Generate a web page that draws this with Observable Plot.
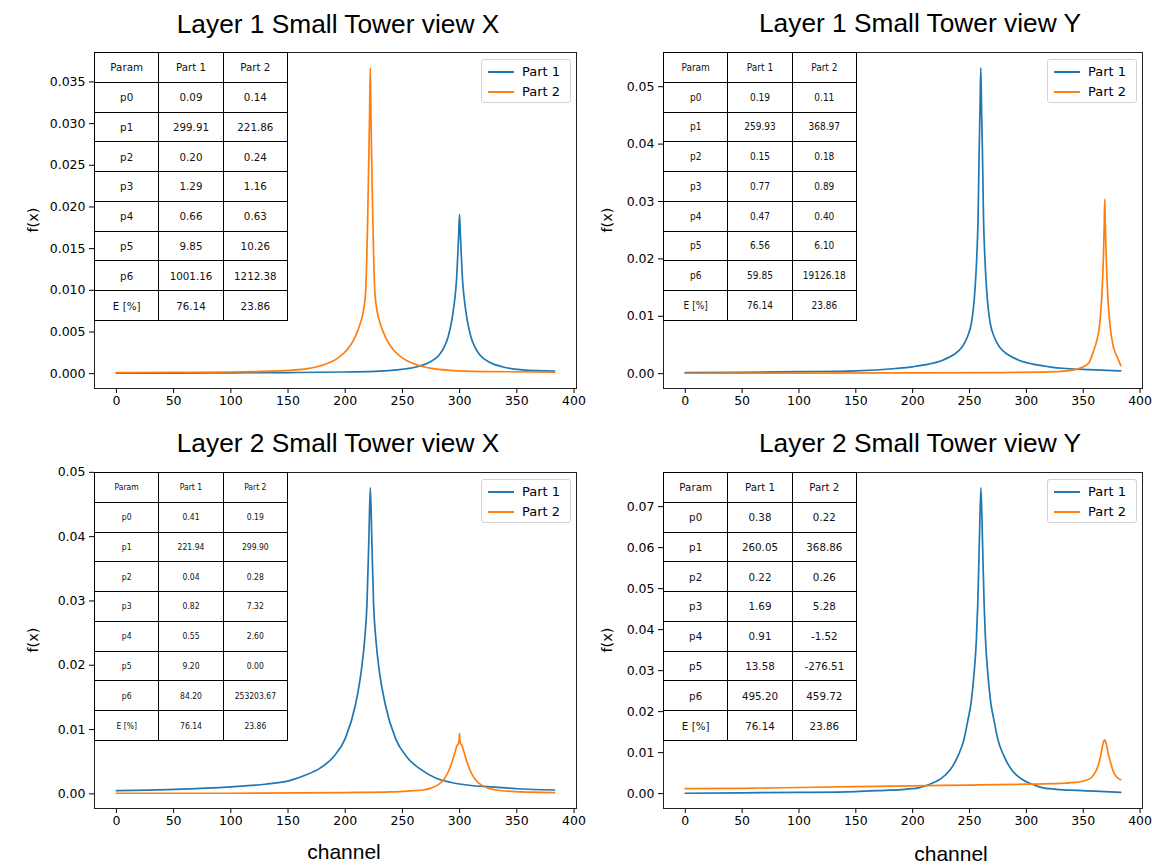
<!DOCTYPE html>
<html>
<head>
<meta charset="utf-8">
<script src="https://cdn.jsdelivr.net/npm/d3@7"></script>
<script src="https://cdn.jsdelivr.net/npm/@observablehq/plot@0.6"></script>
<style>
  body { margin: 0; background: #fff; }
  #fig { position: relative; width: 1152px; height: 865px; overflow: hidden; background: #fff; }
  #fig svg { position: absolute; left: 0; top: 0; overflow: visible; }
  .title { position: absolute; font-family: "Liberation Sans", Arial, sans-serif; font-size: 26.3px; color: #000;
           transform: translate(-50%, -50%); white-space: nowrap; line-height: 1; }
  .xlab { position: absolute; font-family: "Liberation Sans", Arial, sans-serif; font-size: 21px; color: #000;
          transform: translate(-50%, -50%); white-space: nowrap; line-height: 1; }
  .ylab { position: absolute; font-family: "DejaVu Sans", sans-serif; font-size: 14.5px; color: #000;
          transform: translate(-50%, -50%) rotate(-90deg); white-space: nowrap; line-height: 1; }
  table.pt { position: absolute; border-collapse: collapse; table-layout: fixed; background: #fff; }
  table.pt td { border: 1.2px solid #000; text-align: center; padding: 0; color: #111; overflow: hidden; white-space: nowrap; }
  .leg { position: absolute; width: 90px; height: 44px; box-sizing: border-box; border: 1px solid #d4d4d4; border-radius: 3px;
         background: rgba(255,255,255,0.85); font-family: "DejaVu Sans", sans-serif; font-size: 13px; color: #000; }
  .leg .row { position: absolute; left: 0; height: 16px; line-height: 16px; white-space: nowrap; }
  .leg .sw { position: absolute; left: 6px; top: 7px; width: 26px; height: 2px; }
  .leg .tx { position: absolute; left: 40px; top: 0; }
</style>
</head>
<body>
<div id="fig"></div>
<script>
// ---------------- data ----------------
const seriesNames = ["Part 1", "Part 2"];
const seriesColors = ["#1f77b4", "#ff7f0e"];
const channelTicks = [0, 50, 100, 150, 200, 250, 300, 350, 400];
const paramNames = ["p0", "p1", "p2", "p3", "p4", "p5", "p6", "E [%]"];

// Layer 1 view X
const l1xCh1 = [0, 50, 100, 150, 200, 230, 244.91, 261.91, 272.91, 281.91, 286.91, 289.91, 292.91, 294.91, 296.41, 297.41, 298.31, 299.11, 299.91, 300.71, 301.51, 302.41, 303.41, 304.91, 306.91, 309.91, 312.91, 317.91, 326.91, 337.91, 354.91, 383];
const l1xF1  = [0.00005, 0.00007, 0.0001, 0.00013, 0.0002, 0.0003, 0.00045, 0.0008, 0.0013, 0.0022, 0.0033, 0.0044, 0.0062, 0.008, 0.0098, 0.0115, 0.0141, 0.0165, 0.0191, 0.0165, 0.0141, 0.0115, 0.0098, 0.008, 0.0062, 0.0044, 0.0033, 0.0022, 0.0013, 0.0008, 0.00045, 0.0003];
const l1xCh2 = [0, 50, 100, 121.86, 151.86, 166.86, 181.86, 193.86, 201.86, 206.86, 209.86, 213.36, 215.86, 217.86, 218.86, 219.56, 220.66, 221.26, 221.86, 222.46, 223.06, 224.16, 224.86, 225.86, 227.86, 230.36, 233.86, 236.86, 241.86, 249.86, 261.86, 276.86, 291.86, 321.86, 383];
const l1xF2  = [0.00012, 0.00015, 0.0002, 0.00025, 0.0004, 0.0006, 0.0011, 0.0019, 0.0029, 0.0039, 0.0048, 0.0061, 0.0075, 0.0099, 0.014, 0.0181, 0.0262, 0.031, 0.0367, 0.031, 0.0262, 0.0181, 0.014, 0.0099, 0.0075, 0.0061, 0.0048, 0.0039, 0.0029, 0.0019, 0.0011, 0.0006, 0.0004, 0.00025, 0.00018];
const l1xTicks = [0, 0.005, 0.01, 0.015, 0.02, 0.025, 0.03, 0.035];
const l1xPart1 = ["0.09", "299.91", "0.20", "1.29", "0.66", "9.85", "1001.16", "76.14"];
const l1xPart2 = ["0.14", "221.86", "0.24", "1.16", "0.63", "10.26", "1212.38", "23.86"];

// Layer 1 view Y
const l1yCh1 = [0, 50, 100, 150, 184.93, 199.93, 214.93, 226.93, 235.93, 242.93, 247.93, 251.53, 253.43, 254.93, 256.43, 257.53, 258.43, 259.23, 259.93, 260.63, 261.43, 262.33, 263.43, 264.93, 266.43, 268.33, 271.93, 276.93, 283.93, 292.93, 304.93, 319.93, 334.93, 354.93, 383];
const l1yF1  = [0.0002, 0.00025, 0.00035, 0.0005, 0.0009, 0.0012, 0.0017, 0.0024, 0.0033, 0.0045, 0.0063, 0.0087, 0.0114, 0.015, 0.0205, 0.027, 0.038, 0.046, 0.0533, 0.046, 0.038, 0.027, 0.0205, 0.015, 0.0114, 0.0087, 0.0063, 0.0045, 0.0033, 0.0024, 0.0017, 0.0012, 0.0009, 0.0007, 0.0005];
const l1yCh2 = [0, 100, 200, 280, 320, 335, 344, 350, 355, 359.5, 362, 364.6, 366.5, 367.8, 368.5, 368.97, 369.45, 370.2, 371.5, 373.4, 376.5, 379, 381, 383];
const l1yF2  = [0.00008, 0.0001, 0.00013, 0.0002, 0.0003, 0.0005, 0.00075, 0.0012, 0.0019, 0.0042, 0.0058, 0.0088, 0.014, 0.0205, 0.026, 0.0304, 0.026, 0.0205, 0.014, 0.0088, 0.0047, 0.0033, 0.0024, 0.0014];
const l1yTicks = [0, 0.01, 0.02, 0.03, 0.04, 0.05];
const l1yPart1 = ["0.19", "259.93", "0.15", "0.77", "0.47", "6.56", "59.85", "76.14"];
const l1yPart2 = ["0.11", "368.97", "0.18", "0.89", "0.40", "6.10", "19126.18", "23.86"];

// Layer 2 view X
const l2xCh1 = [0, 50, 100, 130, 152, 165, 178, 190, 200, 209, 214, 217, 219, 220.7, 221.94, 223.2, 224.8, 226.8, 229.8, 235, 244, 254, 266, 280, 292, 310, 327, 350, 383];
const l2xF1  = [0.0005, 0.0007, 0.0011, 0.0015, 0.0021, 0.0029, 0.004, 0.0058, 0.0086, 0.0139, 0.0191, 0.024, 0.0295, 0.0399, 0.0476, 0.0399, 0.0295, 0.024, 0.0191, 0.0139, 0.0086, 0.0057, 0.0038, 0.0024, 0.0018, 0.0013, 0.0011, 0.0008, 0.0006];
const l2xCh2 = [0, 100, 200, 240, 260, 268, 275, 281, 286, 290, 293.5, 296, 297.5, 299.2, 299.6, 299.9, 300.2, 300.6, 302.3, 303.8, 306.3, 309.8, 313.8, 318.8, 324.8, 332, 345, 383];
const l2xF2  = [0.0001, 0.0001, 0.0002, 0.0003, 0.0005, 0.0006, 0.0009, 0.0014, 0.0022, 0.0034, 0.005, 0.0065, 0.0074, 0.008, 0.0084, 0.0094, 0.0084, 0.008, 0.0074, 0.0065, 0.005, 0.0034, 0.0022, 0.0014, 0.0009, 0.0006, 0.0004, 0.0002];
const l2xTicks = [0, 0.01, 0.02, 0.03, 0.04, 0.05];
const l2xPart1 = ["0.41", "221.94", "0.04", "0.82", "0.55", "9.20", "84.20", "76.14"];
const l2xPart2 = ["0.19", "299.90", "0.28", "7.32", "2.60", "0.00", "253203.67", "23.86"];

// Layer 2 view Y
const l2yCh1 = [0, 50, 100, 150, 175, 190, 205, 215, 224, 233, 240.35, 245, 248.35, 251.55, 254.15, 256.05, 257.25, 258.75, 260.05, 261.35, 262.85, 264.05, 265.95, 268.55, 271.75, 275.05, 279.75, 287.05, 296.05, 305.05, 315, 330, 345, 360, 383];
const l2yF1  = [0.0001, 0.0002, 0.0003, 0.0005, 0.0008, 0.001, 0.0014, 0.0023, 0.0035, 0.0058, 0.0095, 0.0131, 0.0176, 0.0225, 0.0298, 0.0376, 0.0462, 0.0625, 0.0746, 0.0625, 0.0462, 0.0376, 0.0298, 0.0225, 0.0176, 0.0131, 0.0095, 0.0058, 0.0035, 0.0023, 0.0014, 0.001, 0.0008, 0.0006, 0.0003];
const l2yCh2 = [0, 50, 100, 150, 200, 250, 300, 330, 345, 352, 357.5, 361, 363, 364.5, 365.7, 367, 368, 368.86, 369.7, 370.7, 372, 373.5, 375, 376.5, 379, 383];
const l2yF2  = [0.0012, 0.0013, 0.0015, 0.0017, 0.0019, 0.0021, 0.0023, 0.0025, 0.0028, 0.0032, 0.004, 0.0054, 0.0067, 0.0082, 0.0097, 0.0117, 0.0127, 0.0131, 0.0127, 0.0117, 0.0097, 0.0082, 0.0067, 0.0054, 0.0042, 0.0034];
const l2yTicks = [0, 0.01, 0.02, 0.03, 0.04, 0.05, 0.06, 0.07];
const l2yPart1 = ["0.38", "260.05", "0.22", "1.69", "0.91", "13.58", "495.20", "76.14"];
const l2yPart2 = ["0.22", "368.86", "0.26", "5.28", "-1.52", "-276.51", "459.72", "23.86"];

// ---------------- layout ----------------
const W = 1152, H = 865;
const panels = [
  { title: "Layer 1 Small Tower view X", ch1: l1xCh1, f1: l1xF1, ch2: l1xCh2, f2: l1xF2, yTicks: l1xTicks, fmt: ".3f",
    part1: l1xPart1, part2: l1xPart2, frame: [94, 576, 52, 388], titleXY: [338, 24], ylabXY: [33, 220], xlabXY: null,
    tableFont: "10.3px", tableFamily: '"DejaVu Sans"', tableStretch: "normal" },
  { title: "Layer 1 Small Tower view Y", ch1: l1yCh1, f1: l1yF1, ch2: l1yCh2, f2: l1yF2, yTicks: l1yTicks, fmt: ".2f",
    part1: l1yPart1, part2: l1yPart2, frame: [663, 1142, 52, 388], titleXY: [920, 23], ylabXY: [607, 220], xlabXY: null,
    tableFont: "10px", tableFamily: '"DejaVu Sans Condensed","DejaVu Sans"', tableStretch: "condensed" },
  { title: "Layer 2 Small Tower view X", ch1: l2xCh1, f1: l2xF1, ch2: l2xCh2, f2: l2xF2, yTicks: l2xTicks, fmt: ".2f",
    part1: l2xPart1, part2: l2xPart2, frame: [94, 576, 472, 808], titleXY: [338, 443], ylabXY: [33, 640], xlabXY: [344, 851],
    tableFont: "8.5px", tableFamily: '"DejaVu Sans Condensed","DejaVu Sans"', tableStretch: "condensed" },
  { title: "Layer 2 Small Tower view Y", ch1: l2yCh1, f1: l2yF1, ch2: l2yCh2, f2: l2yF2, yTicks: l2yTicks, fmt: ".2f",
    part1: l2yPart1, part2: l2yPart2, frame: [663, 1142, 472, 808], titleXY: [920, 443], ylabXY: [607, 640], xlabXY: [951, 853],
    tableFont: "10.3px", tableFamily: '"DejaVu Sans"', tableStretch: "normal" }
];

const fig = document.getElementById("fig");

function addDiv(cls, text, x, y) {
  const d = document.createElement("div");
  d.className = cls;
  d.textContent = text;
  d.style.left = x + "px";
  d.style.top = y + "px";
  fig.appendChild(d);
  return d;
}

for (const p of panels) {
  const rows = [];
  p.ch1.forEach((c, i) => rows.push({ channel: c, fx: p.f1[i], part: seriesNames[0] }));
  p.ch2.forEach((c, i) => rows.push({ channel: c, fx: p.f2[i], part: seriesNames[1] }));
  const [cMin, cMax] = d3.extent(rows, d => d.channel);
  const [fMin, fMax] = d3.extent(rows, d => d.fx);
  const cPad = (cMax - cMin) * 0.05, fPad = (fMax - fMin) * 0.05;
  const [l, r, t, b] = p.frame;

  const svg = Plot.plot({
    width: W, height: H,
    marginLeft: l, marginRight: W - r, marginTop: t, marginBottom: H - b,
    style: { fontFamily: "DejaVu Sans", fontSize: "12.5px", color: "#000", background: "transparent", overflow: "visible" },
    x: { domain: [cMin - cPad, cMax + cPad], ticks: channelTicks, tickFormat: d3.format("d"), tickSize: 5, tickPadding: 3, label: null },
    y: { domain: [fMin - fPad, fMax + fPad], ticks: p.yTicks, tickFormat: d3.format(p.fmt), tickSize: 5, tickPadding: 4, label: null },
    color: { domain: seriesNames, range: seriesColors },
    marks: [
      Plot.line(rows, { x: "channel", y: "fx", z: "part", stroke: "part", strokeWidth: 1.7, curve: "monotone-x" }),
      Plot.frame({ stroke: "#222", strokeWidth: 1 })
    ]
  });
  fig.appendChild(svg);

  // parameter table
  const tbl = document.createElement("table");
  tbl.className = "pt";
  tbl.style.left = l + "px";
  tbl.style.top = t + "px";
  tbl.style.width = "194px";
  tbl.style.height = "268px";
  tbl.style.fontFamily = p.tableFamily;
  tbl.style.fontStretch = p.tableStretch;
  tbl.style.fontSize = p.tableFont;
  const allRows = [["Param", "Part 1", "Part 2"]].concat(paramNames.map((n, i) => [n, p.part1[i], p.part2[i]]));
  for (const r0 of allRows) {
    const tr = document.createElement("tr");
    tr.style.height = (268 / 9) + "px";
    for (const c of r0) {
      const td = document.createElement("td");
      td.textContent = c;
      tr.appendChild(td);
    }
    tbl.appendChild(tr);
  }
  fig.appendChild(tbl);

  // legend
  const leg = document.createElement("div");
  leg.className = "leg";
  leg.style.left = (r - 95) + "px";
  leg.style.top = (t + 7) + "px";
  seriesNames.forEach((name, i) => {
    const row = document.createElement("div");
    row.className = "row";
    row.style.top = (4 + i * 20) + "px";
    const sw = document.createElement("span");
    sw.className = "sw";
    sw.style.background = seriesColors[i];
    const tx = document.createElement("span");
    tx.className = "tx";
    tx.textContent = name;
    row.appendChild(sw);
    row.appendChild(tx);
    leg.appendChild(row);
  });
  fig.appendChild(leg);

  addDiv("title", p.title, p.titleXY[0], p.titleXY[1]);
  addDiv("ylab", "f(x)", p.ylabXY[0], p.ylabXY[1]);
  if (p.xlabXY) addDiv("xlab", "channel", p.xlabXY[0], p.xlabXY[1]);
}
</script>
</body>
</html>
